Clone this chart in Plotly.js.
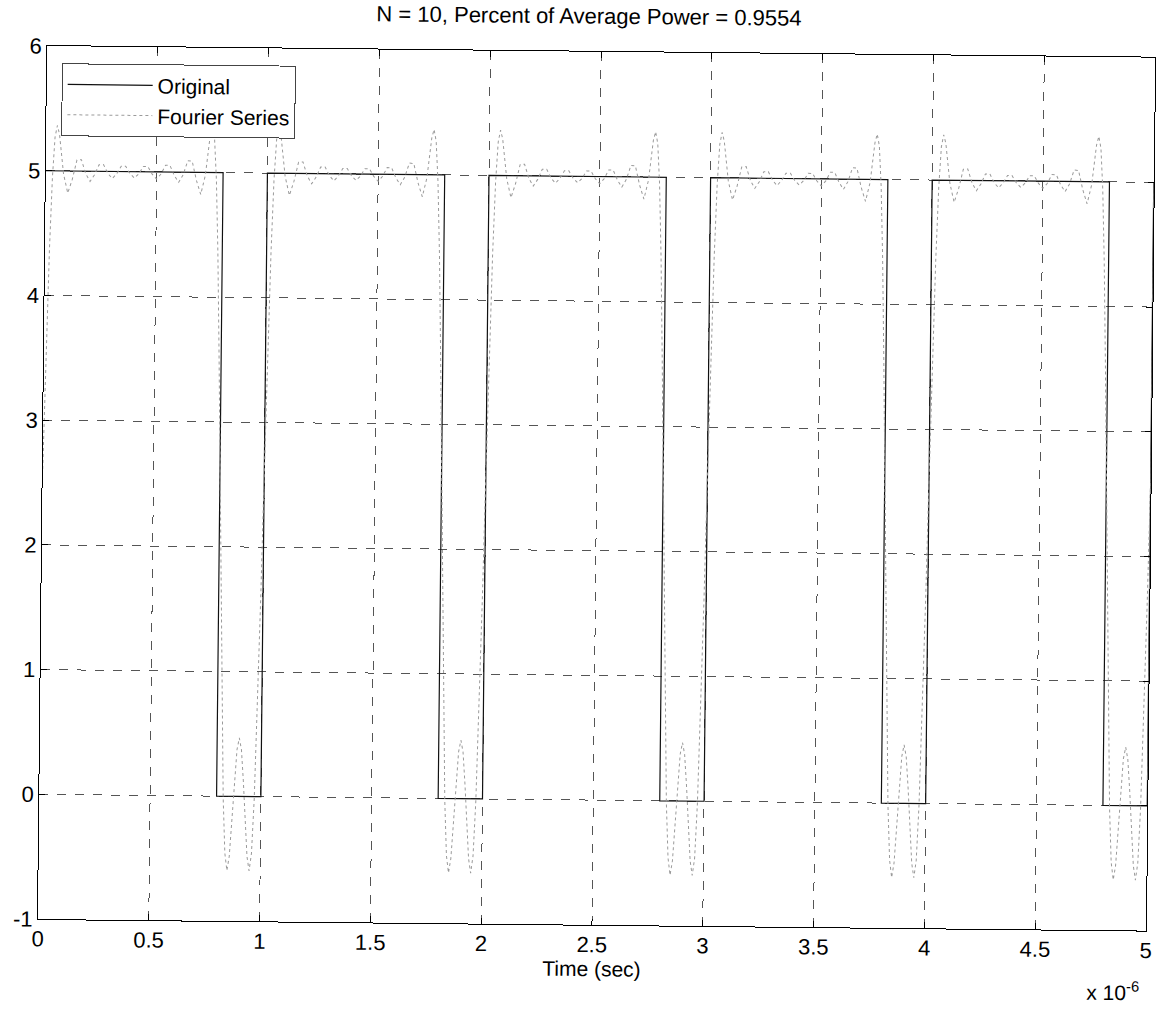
<!DOCTYPE html>
<html>
<head>
<meta charset="utf-8">
<script src="https://cdn.plot.ly/plotly-3.0.1.min.js"></script>
<style>
html,body{margin:0;padding:0;background:#fff;overflow:hidden;}
#chart{width:1159px;height:1009px;transform:rotate(0.6deg);transform-origin:38px 919px;}
</style>
</head>
<body>
<div id="chart"></div>
<script>
// Original pulse train (time in units of 1e-6 s)
const originalTime = [0, 0.8, 0.8, 1, 1, 1.8, 1.8, 2, 2, 2.8, 2.8, 3, 3, 3.8, 3.8, 4, 4, 4.8, 4.8, 5, 5];
const originalValue = [5, 5, 0, 0, 5, 5, 0, 0, 5, 5, 0, 0, 5, 5, 0, 0, 5, 5, 0, 0, 5];

// Fourier series reconstruction (N = 10)
const fsTime = [
  0,0.01,0.02,0.03,0.04,0.05,0.06,0.08,0.1,0.12,0.14,0.16,0.18,0.2,0.22,0.24,0.26,0.28,0.3,0.32,0.34,0.36,0.38,0.4,0.42,0.44,0.46,0.48,0.5,0.52,0.54,0.56,0.58,0.6,0.62,0.64,0.66,0.68,0.7,0.72,0.74,0.75,0.76,0.77,0.78,0.79,0.8,0.81,0.82,0.83,0.84,0.85,0.86,0.87,0.88,0.89,0.9,0.91,0.92,0.93,0.94,0.95,0.96,0.97,0.98,0.99,
  1,1.01,1.02,1.03,1.04,1.05,1.06,1.08,1.1,1.12,1.14,1.16,1.18,1.2,1.22,1.24,1.26,1.28,1.3,1.32,1.34,1.36,1.38,1.4,1.42,1.44,1.46,1.48,1.5,1.52,1.54,1.56,1.58,1.6,1.62,1.64,1.66,1.68,1.7,1.72,1.74,1.75,1.76,1.77,1.78,1.79,1.8,1.81,1.82,1.83,1.84,1.85,1.86,1.87,1.88,1.89,1.9,1.91,1.92,1.93,1.94,1.95,1.96,1.97,1.98,1.99,
  2,2.01,2.02,2.03,2.04,2.05,2.06,2.08,2.1,2.12,2.14,2.16,2.18,2.2,2.22,2.24,2.26,2.28,2.3,2.32,2.34,2.36,2.38,2.4,2.42,2.44,2.46,2.48,2.5,2.52,2.54,2.56,2.58,2.6,2.62,2.64,2.66,2.68,2.7,2.72,2.74,2.75,2.76,2.77,2.78,2.79,2.8,2.81,2.82,2.83,2.84,2.85,2.86,2.87,2.88,2.89,2.9,2.91,2.92,2.93,2.94,2.95,2.96,2.97,2.98,2.99,
  3,3.01,3.02,3.03,3.04,3.05,3.06,3.08,3.1,3.12,3.14,3.16,3.18,3.2,3.22,3.24,3.26,3.28,3.3,3.32,3.34,3.36,3.38,3.4,3.42,3.44,3.46,3.48,3.5,3.52,3.54,3.56,3.58,3.6,3.62,3.64,3.66,3.68,3.7,3.72,3.74,3.75,3.76,3.77,3.78,3.79,3.8,3.81,3.82,3.83,3.84,3.85,3.86,3.87,3.88,3.89,3.9,3.91,3.92,3.93,3.94,3.95,3.96,3.97,3.98,3.99,
  4,4.01,4.02,4.03,4.04,4.05,4.06,4.08,4.1,4.12,4.14,4.16,4.18,4.2,4.22,4.24,4.26,4.28,4.3,4.32,4.34,4.36,4.38,4.4,4.42,4.44,4.46,4.48,4.5,4.52,4.54,4.56,4.58,4.6,4.62,4.64,4.66,4.68,4.7,4.72,4.74,4.75,4.76,4.77,4.78,4.79,4.8,4.81,4.82,4.83,4.84,4.85,4.86,4.87,4.88,4.89,4.9,4.91,4.92,4.93,4.94,4.95,4.96,4.97,4.98,4.99,
  5
];
const fsValue = [
  2.608,3.566,4.370,4.946,5.269,5.364,5.294,4.976,4.823,4.935,5.089,5.092,4.980,4.918,4.972,5.053,5.054,4.984,4.943,4.982,5.043,5.043,4.984,4.949,4.984,5.043,5.043,4.982,4.943,4.984,5.054,5.053,4.972,4.918,4.980,5.092,5.089,4.935,4.823,4.976,5.294,5.364,5.269,4.946,4.370,3.566,2.608,1.608,0.693,-0.020,-0.457,-0.596,-0.480,-0.200,0.124,0.375,0.469,0.375,0.124,-0.200,-0.480,-0.596,-0.457,-0.020,0.693,1.608,
  2.608,3.566,4.370,4.946,5.269,5.364,5.294,4.976,4.823,4.935,5.089,5.092,4.980,4.918,4.972,5.053,5.054,4.984,4.943,4.982,5.043,5.043,4.984,4.949,4.984,5.043,5.043,4.982,4.943,4.984,5.054,5.053,4.972,4.918,4.980,5.092,5.089,4.935,4.823,4.976,5.294,5.364,5.269,4.946,4.370,3.566,2.608,1.608,0.693,-0.020,-0.457,-0.596,-0.480,-0.200,0.124,0.375,0.469,0.375,0.124,-0.200,-0.480,-0.596,-0.457,-0.020,0.693,1.608,
  2.608,3.566,4.370,4.946,5.269,5.364,5.294,4.976,4.823,4.935,5.089,5.092,4.980,4.918,4.972,5.053,5.054,4.984,4.943,4.982,5.043,5.043,4.984,4.949,4.984,5.043,5.043,4.982,4.943,4.984,5.054,5.053,4.972,4.918,4.980,5.092,5.089,4.935,4.823,4.976,5.294,5.364,5.269,4.946,4.370,3.566,2.608,1.608,0.693,-0.020,-0.457,-0.596,-0.480,-0.200,0.124,0.375,0.469,0.375,0.124,-0.200,-0.480,-0.596,-0.457,-0.020,0.693,1.608,
  2.608,3.566,4.370,4.946,5.269,5.364,5.294,4.976,4.823,4.935,5.089,5.092,4.980,4.918,4.972,5.053,5.054,4.984,4.943,4.982,5.043,5.043,4.984,4.949,4.984,5.043,5.043,4.982,4.943,4.984,5.054,5.053,4.972,4.918,4.980,5.092,5.089,4.935,4.823,4.976,5.294,5.364,5.269,4.946,4.370,3.566,2.608,1.608,0.693,-0.020,-0.457,-0.596,-0.480,-0.200,0.124,0.375,0.469,0.375,0.124,-0.200,-0.480,-0.596,-0.457,-0.020,0.693,1.608,
  2.608,3.566,4.370,4.946,5.269,5.364,5.294,4.976,4.823,4.935,5.089,5.092,4.980,4.918,4.972,5.053,5.054,4.984,4.943,4.982,5.043,5.043,4.984,4.949,4.984,5.043,5.043,4.982,4.943,4.984,5.054,5.053,4.972,4.918,4.980,5.092,5.089,4.935,4.823,4.976,5.294,5.364,5.269,4.946,4.370,3.566,2.608,1.608,0.693,-0.020,-0.457,-0.596,-0.480,-0.200,0.124,0.375,0.469,0.375,0.124,-0.200,-0.480,-0.596,-0.457,-0.020,0.693,1.608,
  2.608
];

const xTickVals = [0, 0.5, 1, 1.5, 2, 2.5, 3, 3.5, 4, 4.5, 5];
const xTickText = ['0', '0.5', '1', '1.5', '2', '2.5', '3', '3.5', '4', '4.5', '5'];
const yTickVals = [-1, 0, 1, 2, 3, 4, 5, 6];
const yTickText = ['-1', '0', '1', '2', '3', '4', '5', '6'];

const FONT = 'Liberation Sans, Arial, sans-serif';

const traces = [
  {
    x: originalTime, y: originalValue, type: 'scatter', mode: 'lines', name: 'Original',
    line: {color: '#111111', width: 1.2}
  },
  {
    x: fsTime, y: fsValue, type: 'scatter', mode: 'lines', name: 'Fourier Series',
    line: {color: '#9a9a9a', width: 1, dash: 'dot'}
  }
];

const layout = {
  width: 1159, height: 1009,
  margin: {l: 38, r: 13, t: 46, b: 90},
  paper_bgcolor: '#ffffff', plot_bgcolor: '#ffffff',
  font: {family: FONT, size: 22, color: '#000'},
  title: {text: 'N = 10, Percent of Average Power = 0.9554', font: {family: FONT, size: 22, color: '#000'},
          x: 0.5, xanchor: 'center', y: 0.99, yanchor: 'middle'},
  showlegend: true,
  legend: {x: 0.0135, y: 0.9805, xanchor: 'left', yanchor: 'top', bgcolor: '#ffffff',
           bordercolor: '#444', borderwidth: 1, font: {family: FONT, size: 21, color: '#000'},
           itemwidth: 85, tracegroupgap: 0},
  xaxis: {
    range: [0, 5], tickvals: xTickVals, ticktext: xTickText, ticks: 'inside', ticklen: 6,
    tickcolor: '#000', showline: true, linecolor: '#000', linewidth: 1, mirror: 'ticks',
    showgrid: true, gridcolor: '#555', griddash: 'dash', gridwidth: 1, zeroline: false,
    tickfont: {family: FONT, size: 22}, title: {text: 'Time (sec)', font: {family: FONT, size: 21}, standoff: 2}
  },
  yaxis: {
    range: [-1, 6], tickvals: yTickVals, ticktext: yTickText, ticks: 'inside', ticklen: 6, tickcolor: '#000',
    showline: true, linecolor: '#000', linewidth: 1, mirror: 'ticks',
    showgrid: true, gridcolor: '#555', griddash: 'dash', gridwidth: 1, zeroline: false,
    tickfont: {family: FONT, size: 22}
  },
  annotations: [
    {text: 'x 10<sup>-6</sup>', xref: 'paper', yref: 'paper', x: 0.971, y: -0.07,
     xanchor: 'center', yanchor: 'middle', showarrow: false, font: {family: FONT, size: 21, color: '#000'}}
  ]
};

Plotly.newPlot('chart', traces, layout, {displayModeBar: false, staticPlot: true});
</script>
</body>
</html>
